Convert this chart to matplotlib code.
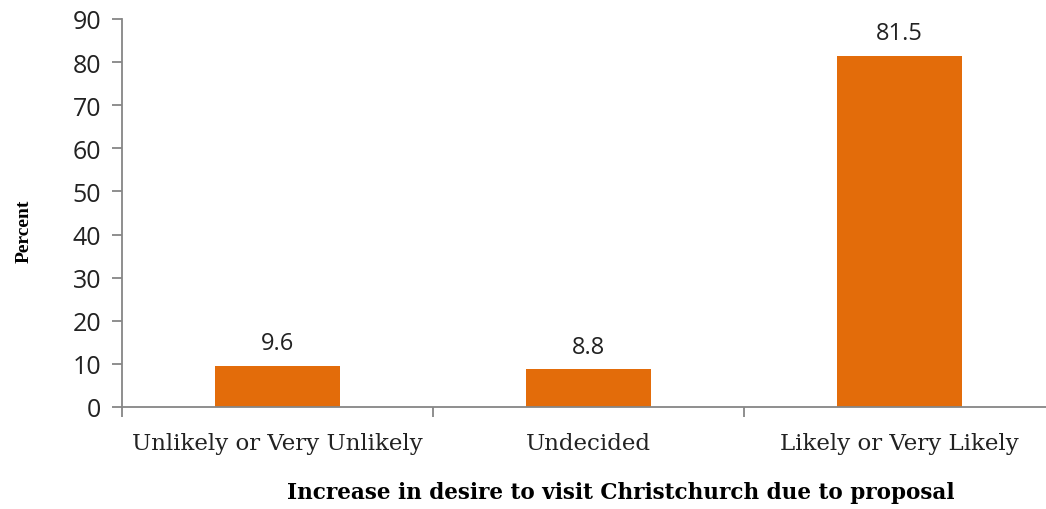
import matplotlib.pyplot as plt
import numpy as np

categories = ["Unlikely or Very Unlikely", "Undecided", "Likely or Very Likely"]
values = [9.6, 8.8, 81.5]
yticks = [0, 10, 20, 30, 40, 50, 60, 70, 80, 90]

fig = plt.figure(figsize=(10.46, 5.10), dpi=100)
ax = fig.add_axes([122 / 1046, 0.2, 1 - 122 / 1046, 0.761])

x = np.arange(len(categories))
ax.bar(x, values, width=0.40, color="#E36C0A", zorder=2)

for xi, v in zip(x, values):
    ax.text(xi, v + 2.4, f"{v}", ha="center", va="bottom",
            fontsize=17, family="Open Sans", color="#222222")

ax.set_xlim(-0.5, 2.471)
ax.set_ylim(0, 90)
ax.set_yticks(yticks)
ax.set_yticklabels([str(t) for t in yticks], fontsize=18, family="Open Sans", color="#222222")

ax.set_xticks(x)
ax.set_xticklabels(categories, fontsize=16.5, family="DejaVu Serif", color="#222222")
ax.set_xticks([-0.5, 0.5, 1.5], minor=True)
ax.tick_params(axis="x", which="major", length=0, pad=18)
ax.tick_params(axis="x", which="minor", length=7, color="#868686", width=1.3)
ax.tick_params(axis="y", length=7, color="#868686", width=1.3, pad=8)

for s in ["top", "right"]:
    ax.spines[s].set_visible(False)
for s in ["left", "bottom"]:
    ax.spines[s].set_color("#868686")
    ax.spines[s].set_linewidth(1.3)

ax.set_ylabel("Percent", fontsize=14, family="Liberation Serif", fontweight="bold")
ax.yaxis.set_label_coords(-0.097, 0.454)
ax.set_xlabel("Increase in desire to visit Christchurch due to proposal",
              fontsize=15.5, family="DejaVu Serif", fontweight="bold")
ax.xaxis.set_label_coords(0.54, -0.19)

fig.savefig("out.png", dpi=100)
